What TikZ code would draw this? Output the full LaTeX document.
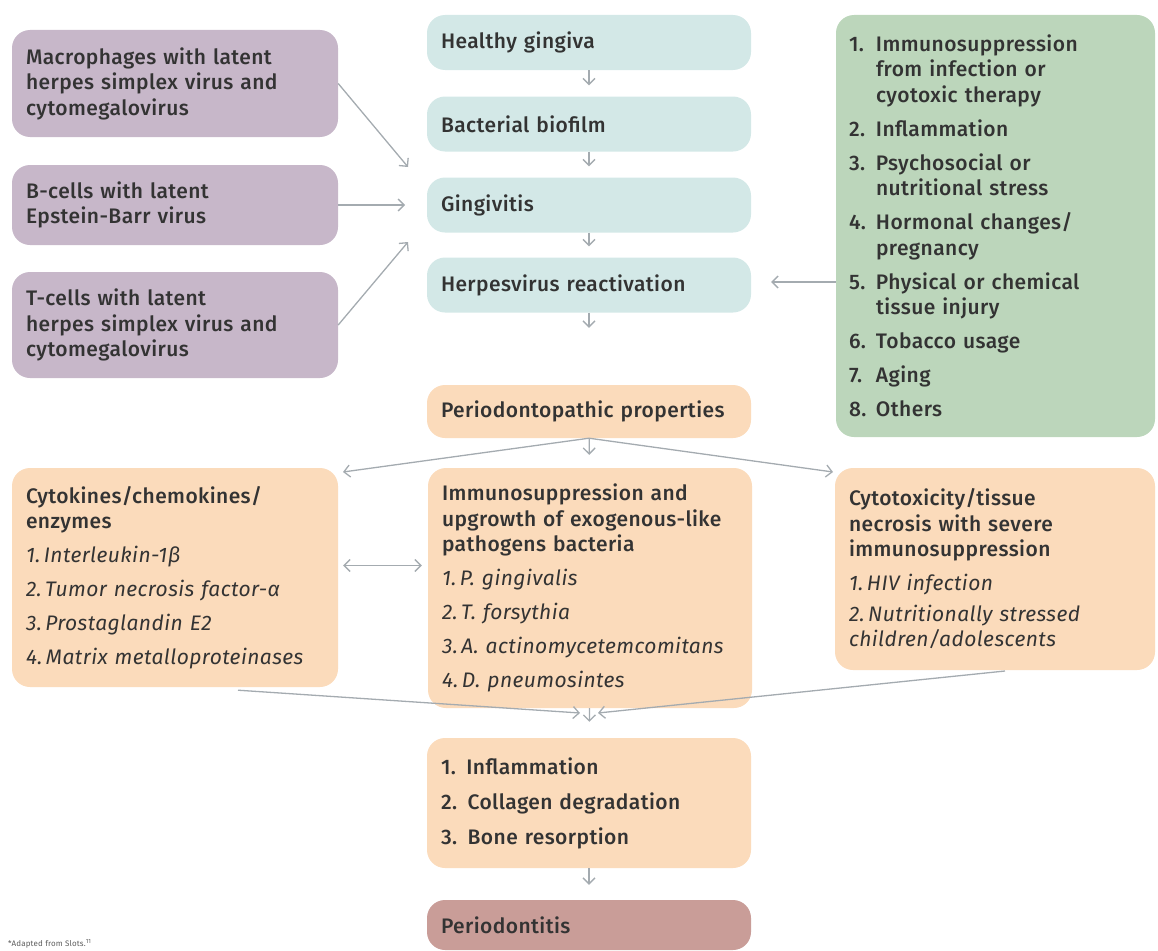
\documentclass[tikz,border=0pt]{standalone}
\usepackage{fontspec}
\setmainfont{Fira Sans}[LetterSpace=2,BoldFont={Fira Sans Medium},BoldItalicFont={Fira Sans Medium Italic}]
\usetikzlibrary{arrows.meta,calc}
\definecolor{purp}{HTML}{C7B7C9}
\definecolor{tealbox}{HTML}{D3E8E7}
\definecolor{grn}{HTML}{BCD6BB}
\definecolor{orng}{HTML}{FBDBBB}
\definecolor{rose}{HTML}{C99D98}
\definecolor{arr}{HTML}{A4ABB0}
\definecolor{txt}{HTML}{333333}
\newcommand\itm[1]{{\mdseries\itshape #1}}
\newcommand\num[1]{\makebox[27pt][l]{#1}}
\begin{document}
\begin{tikzpicture}[x=1pt,y=-1pt,
  box/.style={rounded corners=18pt, inner xsep=14pt, inner ysep=0pt, align=left,
    text=txt, font=\fontsize{21}{25.5}\selectfont\bfseries},
  conn/.style={draw=arr, line width=1.3pt, -{Straight Barb[length=6pt,width=12pt]}},
  conntwo/.style={draw=arr, line width=1.3pt, {Straight Barb[length=6pt,width=12pt]}-{Straight Barb[length=6pt,width=12pt]}},
]
\useasboundingbox (0,0) rectangle (1158,950);

% left purple boxes
\node[box, fill=purp, minimum width=326pt, text width=298pt, minimum height=107pt] (p1) at (175,83.5)
  {Macrophages with latent\\herpes simplex virus and\\cytomegalovirus};
\node[box, fill=purp, minimum width=326pt, text width=298pt, minimum height=80pt] (p2) at (175,205)
  {B-cells with latent\\Epstein-Barr virus};
\node[box, fill=purp, minimum width=326pt, text width=298pt, minimum height=106pt] (p3) at (175,325)
  {T-cells with latent\\herpes simplex virus and\\cytomegalovirus};

% teal chain
\node[box, fill=tealbox, minimum width=324pt, text width=296pt, minimum height=55pt] (t1) at (589,42.5) {Healthy gingiva};
\node[box, fill=tealbox, minimum width=324pt, text width=296pt, minimum height=55pt] (t2) at (589,124) {Bacterial biofilm};
\node[box, fill=tealbox, minimum width=324pt, text width=296pt, minimum height=55pt] (t3) at (589,205) {Gingivitis};
\node[box, fill=tealbox, minimum width=324pt, text width=296pt, minimum height=55pt] (t4) at (589,285) {Herpesvirus reactivation};

% green box
\node[box, fill=grn, minimum width=319pt, minimum height=422pt, inner xsep=13pt, text width=293pt] (g) at (995.5,226)
  {\num{1.}Immunosuppression\\
   \hspace*{27pt}from infection or\\
   \hspace*{27pt}cyotoxic therapy\\[8.5pt]
   \num{2.}Inflammation\\[8.5pt]
   \num{3.}Psychosocial or\\
   \hspace*{27pt}nutritional stress\\[8.5pt]
   \num{4.}Hormonal changes/\\
   \hspace*{27pt}pregnancy\\[8.5pt]
   \num{5.}Physical or chemical\\
   \hspace*{27pt}tissue injury\\[8.5pt]
   \num{6.}Tobacco usage\\[8.5pt]
   \num{7.}Aging\\[8.5pt]
   \num{8.}Others};

% orange
\node[box, fill=orng, minimum width=324pt, text width=296pt, minimum height=53pt] (o0) at (589,411.5) {Periodontopathic properties};

\node[box, fill=orng, minimum width=326pt, text width=298pt, minimum height=219pt] (c) at (175,577.5)
  {Cytokines/chemokines/\\enzymes\\[8.5pt]
   \itm{1.\,Interleukin-1β}\\[8.5pt]
   \itm{2.\,Tumor necrosis factor-α}\\[8.5pt]
   \itm{3.\,Prostaglandin E2}\\[8.5pt]
   \itm{4.\,Matrix metalloproteinases}};

\node[box, fill=orng, minimum width=324pt, text width=296pt, minimum height=240pt] (m) at (590,588)
  {Immunosuppression and\\upgrowth of exogenous-like\\pathogens bacteria\\[8.5pt]
   \itm{1.\,P. gingivalis}\\[8.5pt]
   \itm{2.\,T. forsythia}\\[8.5pt]
   \itm{3.\,A. actinomycetemcomitans}\\[8.5pt]
   \itm{4.\,D. pneumosintes}};

\node[box, fill=orng, minimum width=320pt, text width=292pt, minimum height=202pt] (r) at (995,569)
  {Cytotoxicity/tissue\\necrosis with severe\\immunosuppression\\[8.5pt]
   \itm{1.\,HIV infection}\\[5pt]
   \itm{2.\,Nutritionally stressed}\\
   \itm{children/adolescents}};

\node[box, fill=orng, minimum width=324pt, text width=296pt, minimum height=130pt] (b) at (589,803)
  {1.\ \,Inflammation\\[9.5pt]2. Collagen degradation\\[9.5pt]3. Bone resorption};

\node[box, fill=rose, minimum width=324pt, text width=296pt, minimum height=50pt] (pd) at (589,925) {Periodontitis};

\node[anchor=base west, inner sep=0pt, text=txt!80, font=\fontsize{8}{9}\selectfont] (fn) at (8,946)
  {*Adapted from Slots.\textsuperscript{11}};

% connectors
\coordinate (g1) at (408,167);
\coordinate (g2) at (405,205);
\coordinate (g3) at (408,242);
\draw[conn] (p1.east) -- (g1);
\draw[conn] (p2.east) -- (g2);
\draw[conn] (p3.east) -- (g3);

\draw[conn, shorten >=11pt] (t1) -- (t2);
\draw[conn, shorten >=11pt] (t2) -- (t3);
\draw[conn, shorten >=11pt] (t3) -- (t4);
\draw[conn, shorten >=57pt] (t4) -- (o0);
\draw[conn, shorten >=20pt] ([yshift=3pt]g.west |- t4.east) -- ([yshift=3pt]t4.east);

\coordinate (cl) at (343,472);
\coordinate (cr) at (833,472);
\draw[conn, shorten >=13pt] (o0) -- (m);
\draw[conn] (o0.south) -- (cl);
\draw[conn] (o0.south) -- (cr);

\draw[conntwo] ($(c.east)+(5,-12)$) coordinate (ca) -- ($(m.west|-ca)+(-6,0)$);

\coordinate (c0) at ($(c.south)+(63,3)$);
\coordinate (r0) at (1005,671);
\coordinate (bl) at (580,713);
\coordinate (br) at (598,713);
\draw[conn] (c0) -- (bl);
\draw[conn] (r0) -- (br);
\draw[conn, shorten >=16pt] (m) -- (b);
\draw[conn, shorten >=15pt] (b) -- (pd);
\end{tikzpicture}
\end{document}
